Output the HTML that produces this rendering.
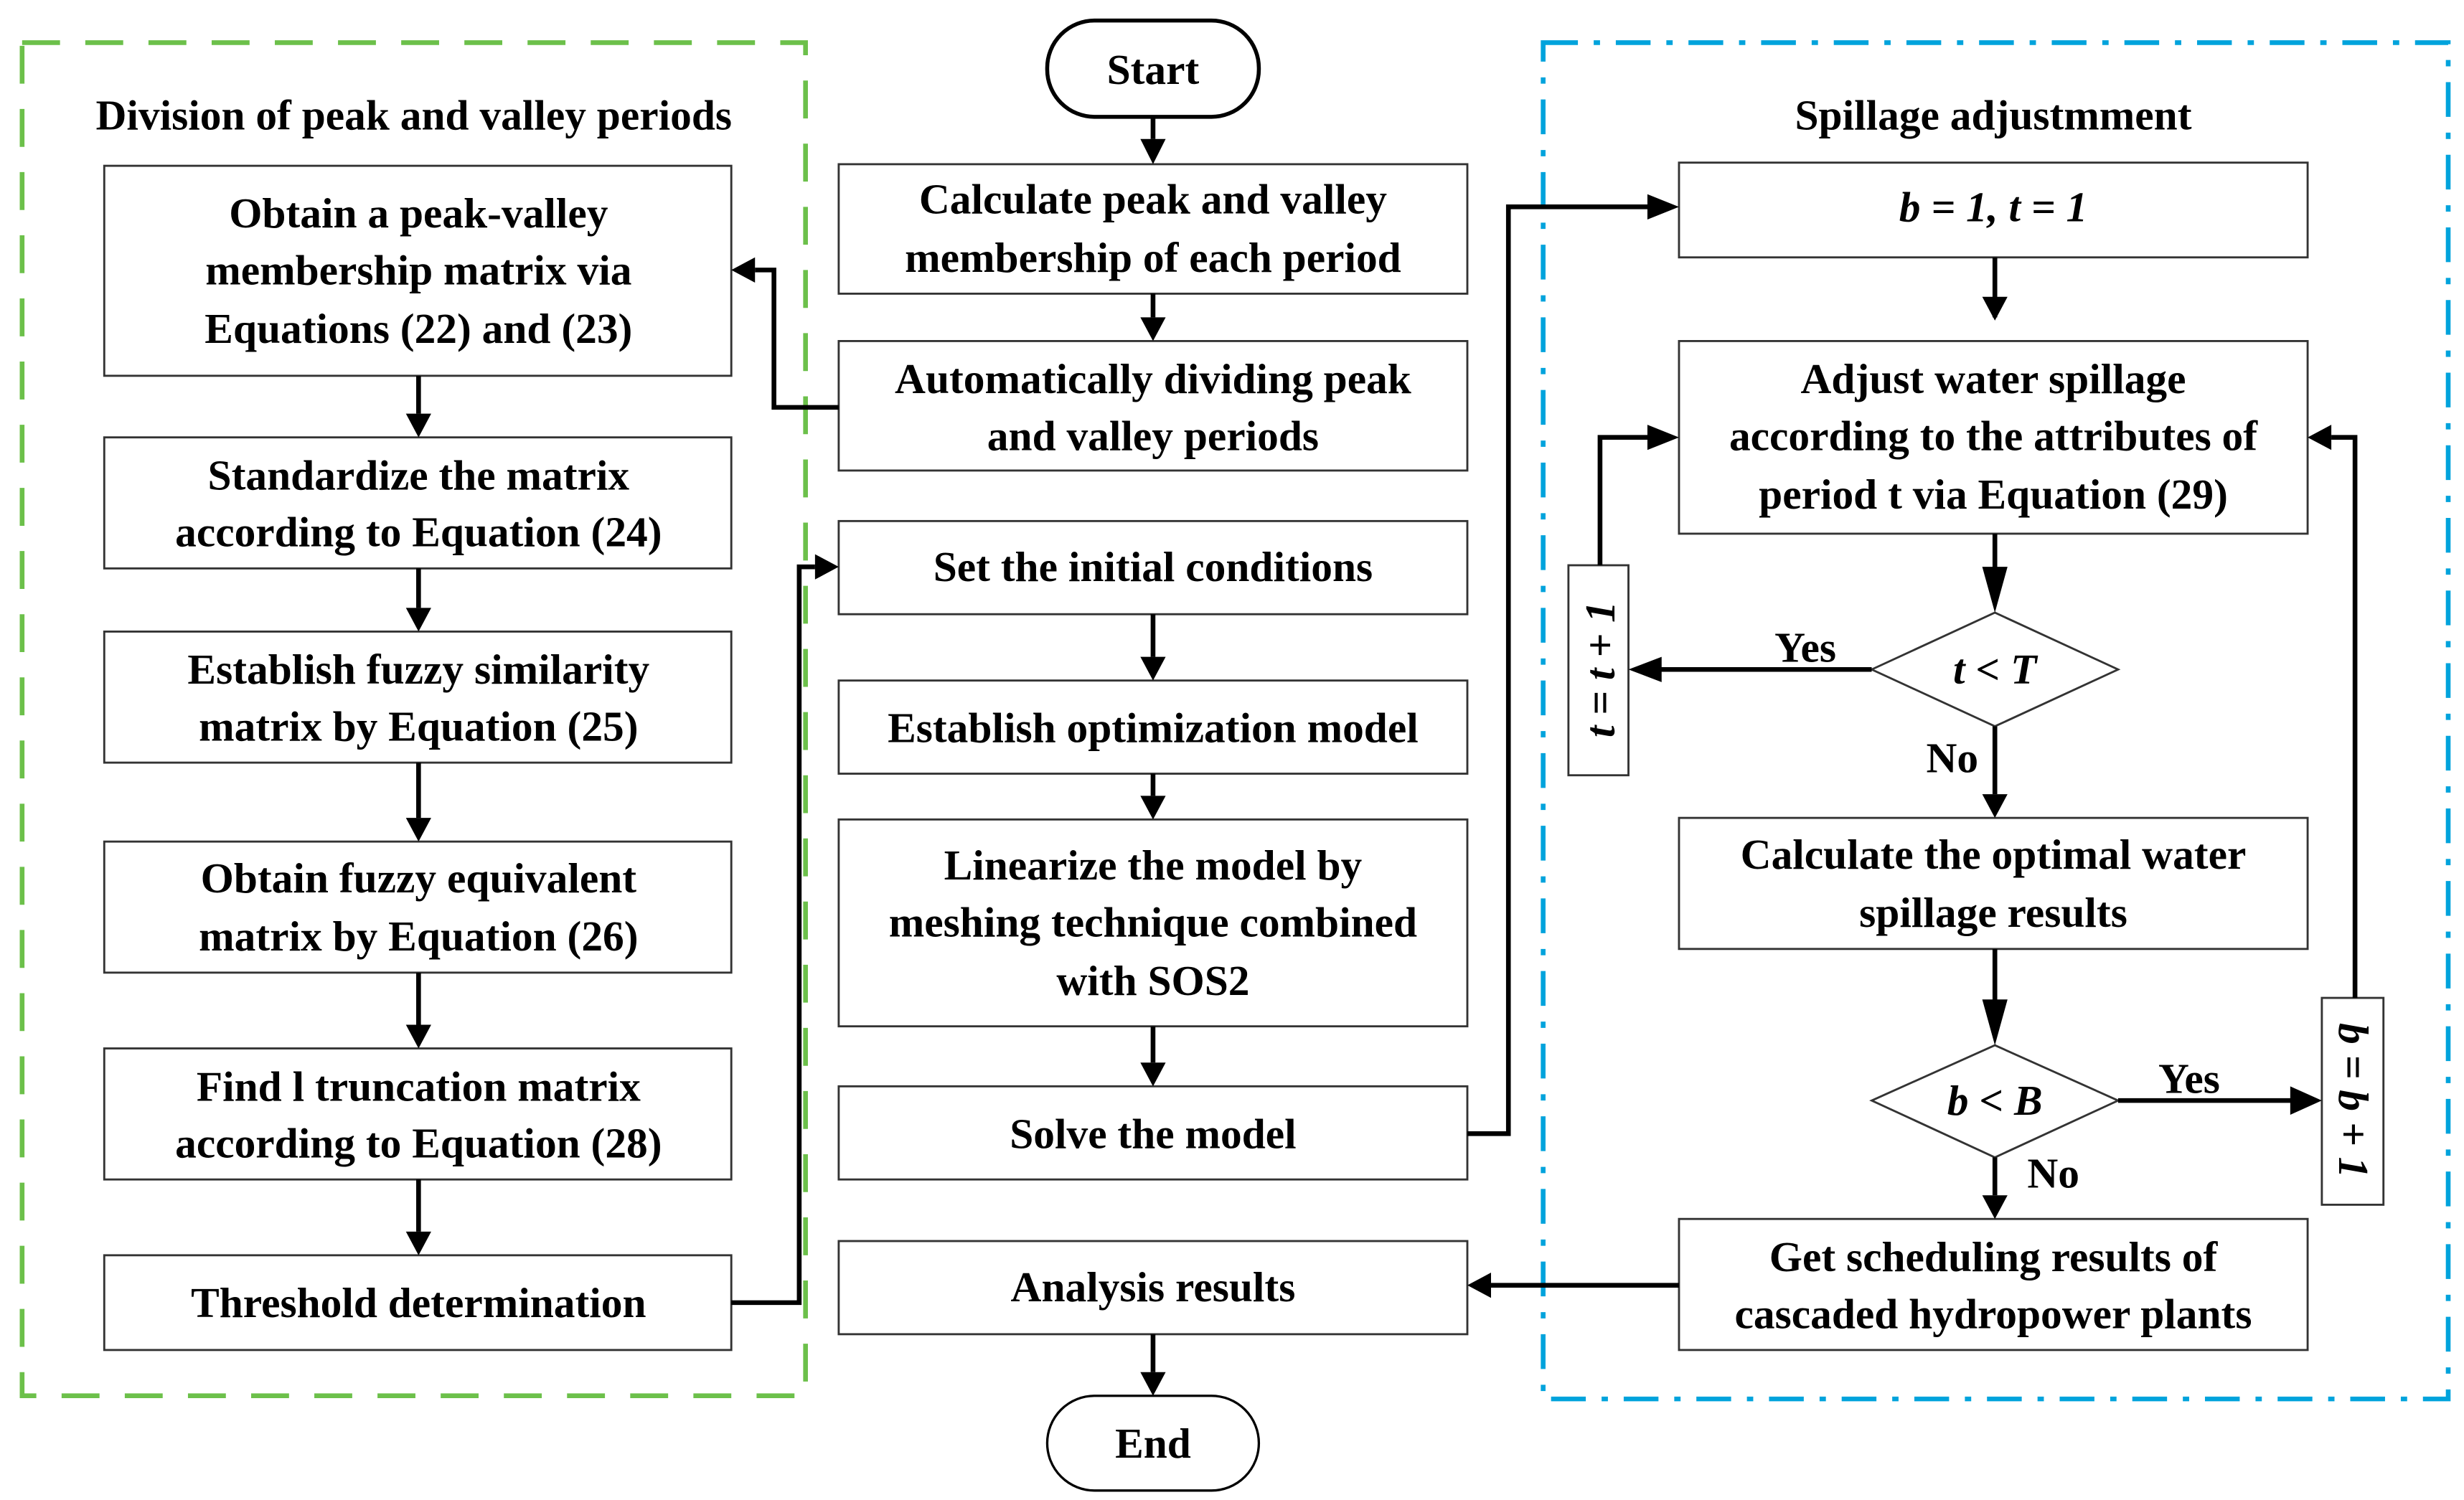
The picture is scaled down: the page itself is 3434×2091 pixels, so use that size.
<!DOCTYPE html>
<html><head><meta charset="utf-8"><style>
html,body{margin:0;padding:0;background:#fff;}
svg{display:block;}
text{font-family:"Liberation Serif",serif;font-weight:bold;font-size:27px;fill:#000;text-anchor:middle;dominant-baseline:central;}
.b{fill:#fff;stroke:#333;stroke-width:1.3;}
.l{fill:none;stroke:#000;stroke-width:3;}
</style></head><body>
<svg width="3434" height="2091" viewBox="0 0 1560 950" preserveAspectRatio="none" xmlns="http://www.w3.org/2000/svg">
<defs>
<marker id="a" viewBox="0 0 10 10" refX="10" refY="5" markerWidth="7" markerHeight="7" markerUnits="userSpaceOnUse" orient="auto">
</marker>
</defs>
<!-- group boxes -->
<rect x="14" y="27" width="496" height="857" fill="none" stroke="#6cc04a" stroke-width="3" stroke-dasharray="24,16"/>
<rect x="977" y="27" width="573" height="859" fill="none" stroke="#00a3dc" stroke-width="3" stroke-dasharray="22,10,4,10"/>
<text x="262" y="73">Division of peak and valley periods</text>
<text x="1262" y="73">Spillage adjustmment</text>

<!-- left column -->
<rect class="b" x="66" y="105" width="397" height="133"/>
<text x="265" y="135">Obtain a peak-valley</text>
<text x="265" y="171">membership matrix via</text>
<text x="265" y="208">Equations (22) and (23)</text>
<rect class="b" x="66" y="277" width="397" height="83"/>
<text x="265" y="301">Standardize the matrix</text>
<text x="265" y="337">according to Equation (24)</text>
<rect class="b" x="66" y="400" width="397" height="83"/>
<text x="265" y="424">Establish fuzzy similarity</text>
<text x="265" y="460">matrix by Equation (25)</text>
<rect class="b" x="66" y="533" width="397" height="83"/>
<text x="265" y="556">Obtain fuzzy equivalent</text>
<text x="265" y="593">matrix by Equation (26)</text>
<rect class="b" x="66" y="664" width="397" height="83"/>
<text x="265" y="688">Find l  truncation matrix</text>
<text x="265" y="724">according to Equation (28)</text>
<rect class="b" x="66" y="795" width="397" height="60"/>
<text x="265" y="825">Threshold determination</text>

<!-- middle column -->
<rect x="663" y="13" width="134" height="61" rx="30" fill="#fff" stroke="#000" stroke-width="2.5"/>
<text x="730" y="44">Start</text>
<rect class="b" x="531" y="104" width="398" height="82"/>
<text x="730" y="126">Calculate peak and valley</text>
<text x="730" y="163">membership of each period</text>
<rect class="b" x="531" y="216" width="398" height="82"/>
<text x="730" y="240">Automatically dividing peak</text>
<text x="730" y="276">and valley periods</text>
<rect class="b" x="531" y="330" width="398" height="59"/>
<text x="730" y="359">Set the initial conditions</text>
<rect class="b" x="531" y="431" width="398" height="59"/>
<text x="730" y="461">Establish optimization model</text>
<rect class="b" x="531" y="519" width="398" height="131"/>
<text x="730" y="548">Linearize the model by</text>
<text x="730" y="584">meshing technique combined</text>
<text x="730" y="621">with SOS2</text>
<rect class="b" x="531" y="688" width="398" height="59"/>
<text x="730" y="718">Solve  the model</text>
<rect class="b" x="531" y="786" width="398" height="59"/>
<text x="730" y="815">Analysis results</text>
<rect x="663" y="884" width="134" height="60" rx="30" fill="#fff" stroke="#000" stroke-width="1.5"/>
<text x="730" y="914">End</text>

<!-- right column -->
<rect class="b" x="1063" y="103" width="398" height="60"/>
<text x="1262" y="131" font-style="italic">b = 1, t = 1</text>
<rect class="b" x="1063" y="216" width="398" height="122"/>
<text x="1262" y="240">Adjust water spillage</text>
<text x="1262" y="276">according to the attributes of</text>
<text x="1262" y="313">period t via Equation (29)</text>
<polygon class="b" points="1185,424 1263,388 1341,424 1263,460"/>
<text x="1263" y="424" font-style="italic">t &lt; T</text>
<rect class="b" x="993" y="358" width="38" height="133"/>
<text transform="translate(1013,424) rotate(-90)" font-style="italic">t = t + 1</text>
<rect class="b" x="1063" y="518" width="398" height="83"/>
<text x="1262" y="541">Calculate the optimal water</text>
<text x="1262" y="578">spillage results</text>
<polygon class="b" points="1185,697 1263,662 1341,697 1263,733"/>
<text x="1263" y="697" font-style="italic">b &lt; B</text>
<rect class="b" x="1470" y="632" width="39" height="131"/>
<text transform="translate(1490,697) rotate(90)" font-style="italic">b = b + 1</text>
<rect class="b" x="1063" y="772" width="398" height="83"/>
<text x="1262" y="796">Get scheduling results of</text>
<text x="1262" y="832">cascaded hydropower plants</text>
<text x="1143" y="410">Yes</text>
<text x="1236" y="480">No</text>
<text x="1386" y="683">Yes</text>
<text x="1300" y="743">No</text>

<!-- connectors -->
<g class="l">
<path d="M265 238V262M265 360V385M265 483V518M265 616V649M265 747V780"/>
<path d="M730 74V88M730 186V201M730 389V416M730 490V504M730 650V673M730 845V869"/>
<path d="M531 258H490V171H478"/>
<path d="M463 825H506V359H516"/>
<path d="M929 718H955V131H1048"/>
<path d="M1263 163V201M1263 338V373M1263 460V503M1263 601V647M1263 733V757"/>
<path d="M1185 424H1047"/>
<path d="M1013 358V277H1048"/>
<path d="M1341 697H1455"/>
<path d="M1491 632V277H1476"/>
<path d="M1063 814H944"/>
</g>
<g fill="#000">
<!-- down arrows -->
<polygon points="257,262 273,262 265,277"/>
<polygon points="257,385 273,385 265,400"/>
<polygon points="257,518 273,518 265,533"/>
<polygon points="257,649 273,649 265,664"/>
<polygon points="257,780 273,780 265,795"/>
<polygon points="722,88 738,88 730,104"/>
<polygon points="722,201 738,201 730,216"/>
<polygon points="722,416 738,416 730,431"/>
<polygon points="722,504 738,504 730,519"/>
<polygon points="722,673 738,673 730,688"/>
<polygon points="722,869 738,869 730,884"/>
<polygon points="1255,188 1271,188 1263,203"/>
<polygon points="1255,359 1271,359 1263,388"/>
<polygon points="1255,503 1271,503 1263,518"/>
<polygon points="1255,633 1271,633 1263,662"/>
<polygon points="1255,757 1271,757 1263,772"/>
<!-- left arrows -->
<polygon points="478,163 478,179 463,171"/>
<polygon points="944,806 944,822 929,814"/>
<polygon points="1052,416 1052,432 1031,424"/>
<polygon points="1476,269 1476,285 1461,277"/>
<!-- right arrows -->
<polygon points="516,351 516,367 531,359"/>
<polygon points="1043,123 1043,139 1063,131"/>
<polygon points="1043,269 1043,285 1063,277"/>
<polygon points="1450,688 1450,706 1470,697"/>
</g>
</svg>
</body></html>
